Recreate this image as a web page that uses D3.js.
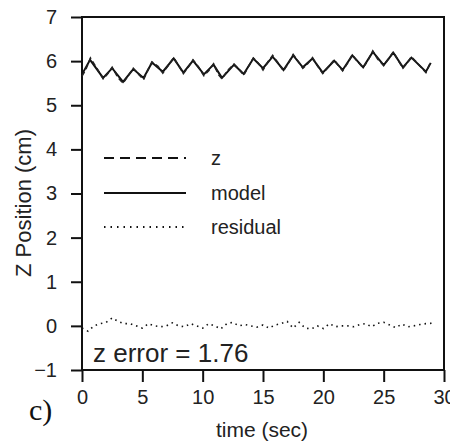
<!DOCTYPE html>
<html><head><meta charset="utf-8">
<script src="https://cdn.jsdelivr.net/npm/d3@7"></script>
<style>
body{margin:0;background:#fff;}
svg{display:block;}
</style></head>
<body><svg id="c" width="450" height="442"></svg>
<script>
// ---- data ----
const modelTime = [0,0.67,1.75,2.5,3.4,4.25,5.1,5.8,6.7,7.6,8.4,9.2,10.1,10.9,11.6,12.6,13.4,14.2,15.0,15.8,16.7,17.5,18.3,19.1,19.95,20.9,21.6,22.4,23.3,24.1,25.0,25.8,26.6,27.3,28.5,28.9];
const modelValues = [5.70,6.03,5.62,5.84,5.53,5.82,5.62,5.97,5.76,6.06,5.74,6.01,5.70,5.92,5.62,5.92,5.71,6.06,5.84,6.10,5.80,6.13,5.86,6.06,5.74,6.01,5.80,6.13,5.86,6.21,5.91,6.19,5.86,6.08,5.76,5.96];
const zTime = [0,0.3,0.7,1.2,1.75,2.1,2.5,3.0,3.4,3.9,4.25,4.7,5.1,5.5,5.8,6.3,6.7,7.2,7.6,8.0,8.4,8.8,9.2,9.7,10.1,10.5,10.9,11.3,11.6,12.1,12.6,13.0,13.4,13.8,14.2,14.6,15.0,15.4,15.8,16.2,16.7,17.1,17.5,17.9,18.3,18.7,19.1,19.5,19.95,20.4,20.9,21.2,21.6,22.0,22.4,22.8,23.3,23.7,24.1,24.5,25.0,25.4,25.8,26.2,26.6,27.0,27.3,27.9,28.5,28.9];
const zValues = [5.66,5.80,6.07,5.85,5.60,5.70,5.86,5.62,5.50,5.70,5.84,5.70,5.58,5.82,5.98,5.88,5.73,5.92,6.08,5.90,5.72,5.86,6.03,5.85,5.67,5.78,5.94,5.70,5.60,5.80,5.93,5.82,5.68,5.88,6.07,5.96,5.80,5.98,6.13,5.98,5.78,5.95,6.15,6.00,5.84,5.94,6.08,5.90,5.72,5.86,6.03,5.92,5.78,5.95,6.14,6.00,5.85,6.02,6.23,6.05,5.90,6.05,6.21,6.02,5.84,5.98,6.10,5.92,5.74,5.98];
const residualTime = [0,0.5,1,1.5,2,2.5,3,3.5,4,4.5,5,5.5,6,6.5,7,7.5,8,8.5,9,9.5,10,10.5,11,11.5,12,12.5,13,13.5,14,14.5,15,15.5,16,16.5,17,17.5,18,18.5,19,19.5,20,20.5,21,21.5,22,22.5,23,23.5,24,24.5,25,25.5,26,26.5,27,27.5,28,28.5,29];
const residualValues = [-0.05,-0.12,0.0,0.05,0.08,0.18,0.1,0.05,0.05,0.0,-0.05,0.05,0.0,-0.02,0.0,0.07,0.0,-0.02,0.05,0.0,-0.05,0.05,0.0,-0.07,0.05,0.08,0.0,0.03,0.0,-0.03,0.02,-0.05,0.02,0.05,0.1,-0.05,0.08,-0.05,-0.07,0.0,-0.06,0.05,-0.02,0.0,0.0,-0.02,0.03,0.05,-0.02,0.06,0.08,0.02,-0.04,0.04,-0.02,0.0,0.03,0.05,0.06];
const xTicks = [0,5,10,15,20,25,30];
const yTicks = [-1,0,1,2,3,4,5,6,7];
const legendLabels = ["z","model","residual"];
const errorLabel = "z error = 1.76";
const xTitle = "time (sec)";
const yTitle = "Z Position (cm)";
const panelLabel = "c)";

// ---- drawing ----
const SANS = "'Liberation Sans',Arial,sans-serif";
const svg = d3.select("#c");
const L = 82, R = 444, T = 17, B = 370;
const x = d3.scaleLinear().domain([0,30]).range([L,R]);
const y = d3.scaleLinear().domain([-1,7]).range([B,T]);

svg.append("rect").attr("x",L).attr("y",T).attr("width",R-L).attr("height",B-T)
  .attr("fill","none").attr("stroke","#111").attr("stroke-width",2);

const yAxis = svg.append("g").attr("transform",`translate(${L},0)`)
  .call(d3.axisLeft(y).tickValues(yTicks).tickSize(11).tickPadding(14).tickFormat(d3.format("d")));
const xAxis = svg.append("g").attr("transform",`translate(0,${B})`)
  .call(d3.axisBottom(x).tickValues(xTicks).tickSize(12).tickPadding(8).tickFormat(d3.format("d")));
[yAxis,xAxis].forEach(g=>{
  g.select(".domain").remove();
  g.selectAll(".tick line").attr("stroke","#111").attr("stroke-width",2);
  g.selectAll(".tick text").style("font-size","20px").style("font-family",SANS).attr("fill","#222");
});

const line = (tArr,vArr)=> d3.line().x((d,i)=>x(tArr[i])).y(d=>y(d))(vArr);

svg.append("path").attr("d",line(modelTime,modelValues))
  .attr("fill","none").attr("stroke","#111").attr("stroke-width",2);
svg.append("path").attr("d",line(zTime,zValues))
  .attr("fill","none").attr("stroke","#222").attr("stroke-width",1.6).attr("stroke-dasharray","5,3");
svg.append("path").attr("d",line(residualTime,residualValues))
  .attr("fill","none").attr("stroke","#111").attr("stroke-width",1.6).attr("stroke-dasharray","1.5,4");

const dashes = ["10,6",null,"1.5,5"];
const legY = [158,193,227];
legendLabels.forEach((lab,i)=>{
  const ln = svg.append("line").attr("x1",104).attr("x2",186).attr("y1",legY[i]).attr("y2",legY[i])
    .attr("stroke","#111").attr("stroke-width",2);
  if(dashes[i]) ln.attr("stroke-dasharray",dashes[i]);
  svg.append("text").attr("x",211).attr("y",legY[i]).attr("dy","0.35em")
    .style("font-size","20px").style("font-family",SANS).attr("fill","#222").text(lab);
});

svg.append("text").attr("x",93).attr("y",362).style("font-size","26px").style("font-family",SANS).attr("fill","#222").text(errorLabel);
svg.append("text").attr("x",262).attr("y",437).attr("text-anchor","middle").style("font-size","21px").style("font-family",SANS).attr("fill","#222").text(xTitle);
svg.append("text").attr("transform","translate(31,203) rotate(-90)").attr("text-anchor","middle").style("font-size","22px").style("font-family",SANS).attr("fill","#222").text(yTitle);
svg.append("text").attr("x",29).attr("y",420).style("font-size","30px").style("font-family","'Liberation Serif','Times New Roman',serif").attr("fill","#111").text(panelLabel);
</script></body></html>
